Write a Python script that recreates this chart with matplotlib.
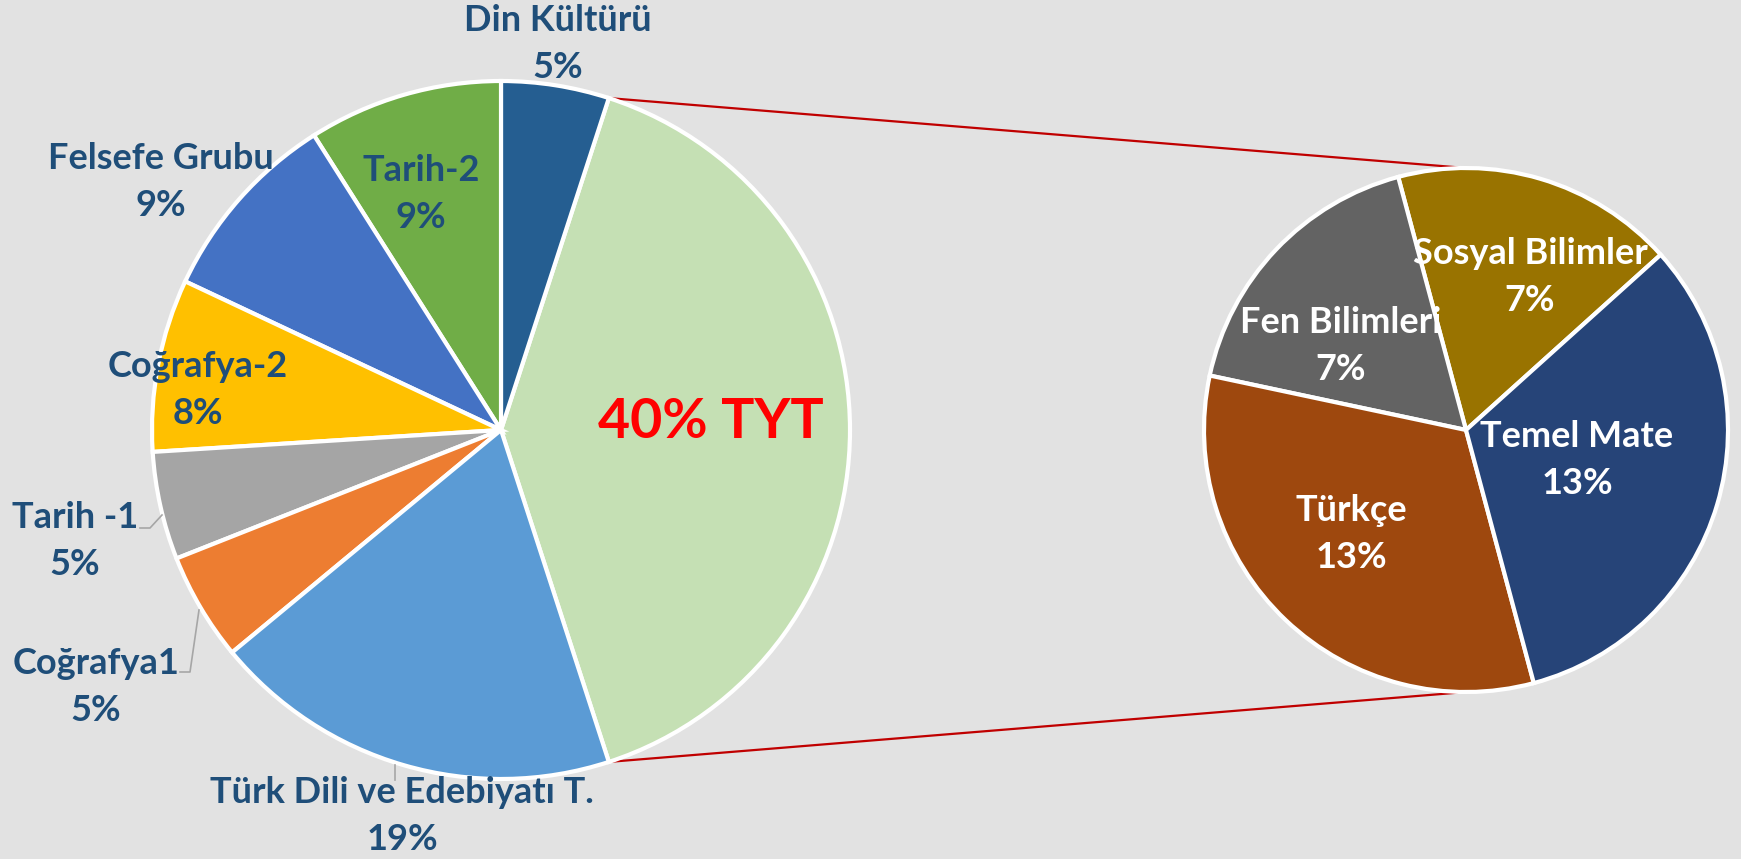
import numpy as np
import matplotlib
matplotlib.use("Agg")
import matplotlib.pyplot as plt

# main pie (share of the whole exam), counter-clockwise from the TYT slice
main_labels = ["TYT", "Din Kültürü", "Tarih-2", "Felsefe Grubu", "Coğrafya-2",
               "Tarih -1", "Coğrafya1", "Türk Dili ve Edebiyatı T."]
main_values = [40, 5, 9, 9, 8, 5, 5, 19]
main_colors = ["#C5E0B4", "#255E91", "#70AD47", "#4472C4", "#FFC000",
               "#A5A5A5", "#ED7D31", "#5B9BD5"]

# secondary pie: breakdown of TYT
sub_labels = ["Sosyal Bilimler", "Fen Bilimleri", "Türkçe", "Temel Mate"]
sub_values = [7, 7, 13, 13]
sub_colors = ["#997300", "#636363", "#9E480E", "#264478"]

W, H = 1741, 859
fig = plt.figure(figsize=(W / 100, H / 100), dpi=100)
fig.patch.set_facecolor("#E2E2E2")
ax = fig.add_axes([0, 0, 1, 1])
ax.set_facecolor("#E2E2E2")

# pixel-ish layout (y measured from the top of the picture)
c1, r1 = (501, 430), 349
c2, r2 = (1466, 430), 262
fy = lambda y: H - y

start1 = -main_values[0] * 3.6 / 2
ax.pie(main_values, colors=main_colors, startangle=start1, counterclock=True,
       center=(c1[0], fy(c1[1])), radius=r1, frame=True,
       wedgeprops=dict(edgecolor="white", linewidth=3))
ax.pie(sub_values, colors=sub_colors, startangle=42, counterclock=True,
       center=(c2[0], fy(c2[1])), radius=r2, frame=True,
       wedgeprops=dict(edgecolor="white", linewidth=3))

# connector lines between the TYT slice and the secondary pie
a0 = np.deg2rad(start1)
a1 = np.deg2rad(start1 + main_values[0] * 3.6)
for ang, s in ((a1, 1), (a0, -1)):
    x0 = c1[0] + r1 * np.cos(ang)
    y0 = fy(c1[1]) + r1 * np.sin(ang)
    ax.plot([x0, c2[0]], [y0, fy(c2[1]) + s * r2], color="#C00000", lw=1.6, zorder=0.5)

font = "Lato"
blue = "#1F4E79"
fs = 26
# label positions (text block centres)
main_pos = {
    "Din Kültürü": (558, 44),
    "Tarih-2": (421, 194),
    "Felsefe Grubu": (161, 182),
    "Coğrafya-2": (198, 390),
    "Tarih -1": (75, 541),
    "Coğrafya1": (96, 687),
    "Türk Dili ve Edebiyatı T.": (402, 816),
}
for lab, val in zip(main_labels, main_values):
    if lab == "TYT":
        ax.text(711, fy(422), f"{val}% {lab}", color="#FF0000", fontsize=40,
                fontweight="bold", family=font, ha="center", va="center")
        continue
    x, y = main_pos[lab]
    ax.text(x, fy(y), f"{lab}\n{val}%", color=blue, fontsize=fs, fontweight="bold",
            family=font, ha="center", va="center", linespacing=1.5)

sub_pos = {
    "Sosyal Bilimler": (1530, 277),
    "Fen Bilimleri": (1341, 346),
    "Türkçe": (1351, 534),
    "Temel Mate": (1577, 460),
}
for lab, val in zip(sub_labels, sub_values):
    x, y = sub_pos[lab]
    ax.text(x, fy(y), f"{lab}\n{val}%", color="white", fontsize=fs, fontweight="bold",
            family=font, ha="center", va="center", linespacing=1.5)

# small leader lines
leaders = [
    [(140, 528), (150, 528), (162, 515)],
    [(180, 672), (190, 672), (199, 610)],
    [(395, 765), (395, 780)],
]
for pts in leaders:
    xs, ys = zip(*pts)
    ax.plot(xs, [fy(v) for v in ys], color="#A6A6A6", lw=1.2)

ax.set_xlim(0, W)
ax.set_ylim(0, H)
ax.set_aspect("equal")
ax.axis("off")
fig.savefig("out.png", dpi=100, facecolor=fig.get_facecolor())
